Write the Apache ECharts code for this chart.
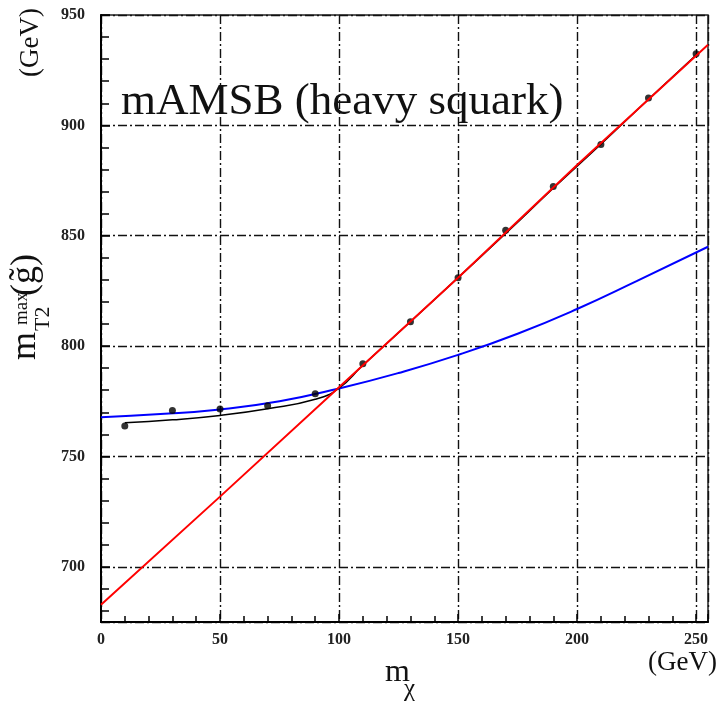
<!DOCTYPE html>
<html>
<head>
<meta charset="utf-8">
<script src="https://cdn.jsdelivr.net/npm/echarts@6/dist/echarts.min.js"></script>
<style>
  html, body { margin: 0; padding: 0; background: #fff; }
  #chart { width: 718px; height: 701px; }
</style>
</head>
<body>
<div id="chart"></div>
<script>
// measured points (black dots)
const pointX = [10, 30, 50, 70, 90, 110, 130, 150, 170, 190, 210, 230, 250];
const pointY = [763.8, 770.8, 771.5, 773, 778.4, 792, 811, 831, 852.5, 872.3, 891.3, 912.4, 932.4];

// black curve through the points
const blackX = [10, 30, 50, 70, 90, 100, 110, 130, 150, 170, 190, 210, 230, 250];
const blackY = [765.3, 766.6, 768.6, 771.6, 775.9, 781, 791.3, 811, 831, 851, 871.5, 891.5, 911.8, 931.8];

// blue curve
const blueX = [0, 25, 50, 75, 100, 125, 150, 175, 200, 225, 255];
const blueY = [767.8, 769.2, 771.3, 775, 780.8, 787.8, 796, 805.6, 816.8, 829.4, 845];

// red straight line
const redX = [0, 50, 100, 150, 200, 255];
const redY = [682.8, 731.8, 781.4, 831, 882, 936.5];

const xTicks = [0, 50, 100, 150, 200, 250];
const yTicks = [700, 750, 800, 850, 900, 950];

const serif = '"Liberation Serif", "DejaVu Serif", serif';
const pair = (xs, ys) => xs.map((x, i) => [x, ys[i]]);

// text placed by its baseline
function txt(text, x, base, size, align) {
  return {
    type: 'text',
    style: {
      text: text, x: x, y: base - 0.32 * size,
      font: size + 'px ' + serif, fill: '#111',
      align: align || 'left', verticalAlign: 'middle'
    }
  };
}

const gridLine = { color: '#111', width: 1.4, type: [9, 3, 2, 3] };

const option = {
  animation: false,
  grid: { left: 101, right: 10, top: 15, bottom: 79, show: true, borderColor: '#222', borderWidth: 1.5 },
  xAxis: {
    type: 'value', min: 0, max: 255, interval: 50,
    axisLine: { lineStyle: { color: '#000', width: 2 } },
    axisTick: { inside: true, length: 8, lineStyle: { color: '#000', width: 1.5 } },
    minorTick: { show: true, splitNumber: 5, length: 6, lineStyle: { color: '#000', width: 1.5 } },
    splitLine: { show: true, lineStyle: gridLine },
    axisLabel: {
      showMaxLabel: false, margin: 10, color: '#222',
      fontFamily: serif, fontWeight: 'bold', fontSize: 16,
      formatter: v => xTicks.includes(v) ? String(v) : ''
    }
  },
  yAxis: {
    type: 'value', min: 675, max: 950, splitNumber: 5, minInterval: 50, maxInterval: 50,
    axisLine: { show: true, lineStyle: { color: '#000', width: 2 } },
    axisTick: { show: true, inside: true, length: 9, lineStyle: { color: '#000', width: 1.5 } },
    minorTick: { show: true, splitNumber: 5, length: 8, lineStyle: { color: '#000', width: 1.5 } },
    splitLine: { show: true, lineStyle: gridLine },
    axisLabel: {
      showMinLabel: false, margin: 16, color: '#222',
      fontFamily: serif, fontWeight: 'bold', fontSize: 16,
      formatter: v => yTicks.includes(v) ? String(v) : ''
    }
  },
  series: [
    {
      type: 'line', data: pair(blueX, blueY), smooth: true, showSymbol: false,
      lineStyle: { color: '#0000ff', width: 2 }, z: 3
    },
    {
      type: 'line', data: pair(blackX, blackY), smooth: true, showSymbol: false,
      lineStyle: { color: '#000', width: 1.5 }, z: 3
    },
    {
      type: 'scatter', data: pair(pointX, pointY), symbolSize: 7,
      itemStyle: { color: '#000' }, z: 4
    },
    {
      type: 'line', data: pair(redX, redY), showSymbol: false,
      lineStyle: { color: '#ff0000', width: 2 }, z: 5
    }
  ],
  graphic: [
    txt('mAMSB (heavy squark)', 121, 117, 45),
    // x axis title
    txt('m', 385, 683, 32),
    txt('\u03c7', 404, 697, 25),
    txt('(GeV)', 717, 672, 27, 'right'),
    // y axis title, rotated
    {
      type: 'group', x: 37, y: 360, rotation: Math.PI / 2,
      children: [
        txt('m', 0, 0, 36),
        txt('T2', 29, 13, 22),
        txt('max', 35, -9, 19),
        txt('(g\u0303)', 64, 0, 36)
      ]
    },
    {
      type: 'group', x: 40, y: 77, rotation: Math.PI / 2,
      children: [txt('(GeV)', 0, 0, 27)]
    }
  ]
};

const myChart = echarts.init(document.getElementById('chart'));
myChart.setOption(option);
</script>
</body>
</html>
